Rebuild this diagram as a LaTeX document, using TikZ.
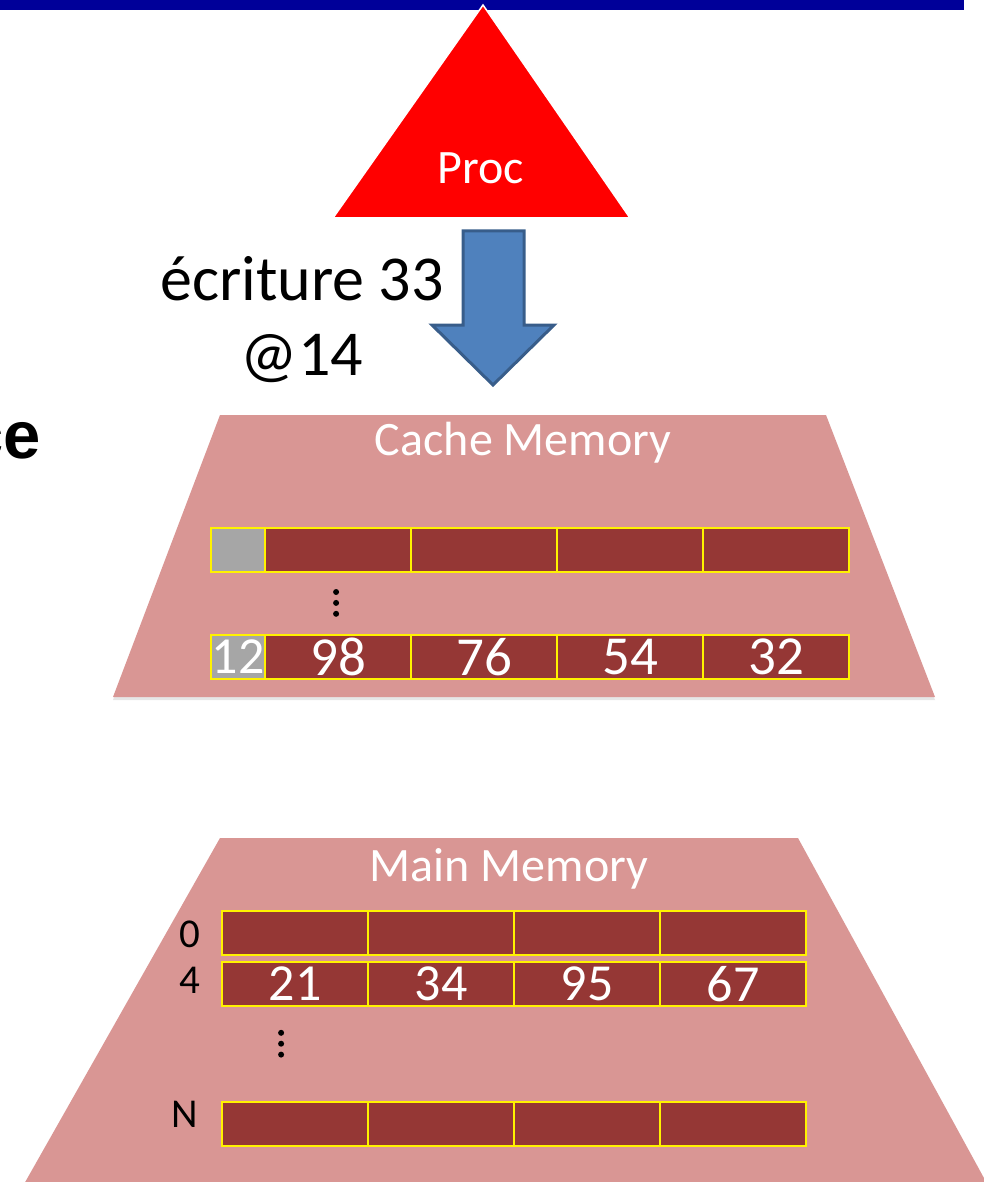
\documentclass[tikz,border=0pt]{standalone}
\usepackage{fontspec}
\setmainfont{Carlito}
\newfontfamily\arialfont{Liberation Sans}
\usetikzlibrary{matrix}
\usetikzlibrary{calc}
\usetikzlibrary{shadows}
\definecolor{barblue}{RGB}{0,0,153}
\definecolor{procred}{RGB}{255,0,0}
\definecolor{arrowblue}{RGB}{79,129,189}
\definecolor{arrowedge}{RGB}{56,93,138}
\definecolor{mempink}{RGB}{217,150,148}
\definecolor{cellred}{RGB}{149,55,53}
\definecolor{taggrey}{RGB}{166,166,166}
\begin{document}
\begin{tikzpicture}[x=1pt,y=-1pt,
    cell/.style={draw=yellow, line width=1.8pt, fill=cellred, text=white, inner sep=0pt, anchor=center,
      minimum width=146pt, minimum height=44pt, font=\fontsize{55}{55}\selectfont},
    tag/.style={cell, fill=taggrey, minimum width=54pt, font=\fontsize{52}{52}\selectfont},
    memrow/.style={matrix of nodes, nodes in empty cells, inner sep=0pt,
      column sep=-1.8pt, row sep=4pt, nodes={cell}},
    level/.style={fill=mempink, drop shadow={opacity=.2, shadow xshift=0pt, shadow yshift=-3pt}},
    vdotsline/.style={line width=6pt, line cap=round, dash pattern=on 0pt off 10.9pt},
    addr/.style={anchor=center, font=\fontsize{41}{41}\selectfont}]
  \useasboundingbox (0,0) rectangle (984,1182);

  % title bar and processor
  \fill[barblue] (0,0) rectangle (964,10);
  \coordinate (top) at (483,5);
  \coordinate (bl) at (333,218);
  \coordinate (br) at (630,218);
  \draw[white, line width=1.5pt, fill=procred] (top) -- (br) -- (bl) -- cycle;
  \node[text=white, font=\fontsize{48}{48}\selectfont] (proc) at (481,168) {Proc};

  % write request
  \draw[arrowedge, line width=3pt, fill=arrowblue, line join=miter]
    (463,231) -- (524,231) -- (524,325) -- (554,325) -- (493,385) -- (432,325) -- (463,325) -- cycle;
  \node[align=center, font=\fontsize{64}{75}\selectfont] (req) at (302,320) {écriture 33\\@14};
  \node[anchor=base east, inner sep=0pt, font=\arialfont\bfseries\fontsize{67}{67}\selectfont] (cut) at (41,458) {ce};

  % cache memory
  \path[level] (220,415) -- (826,415) -- (935,697) -- (113,697) -- cycle;
  \node[text=white, font=\fontsize{48}{48}\selectfont] (cname) at (523,443) {Cache Memory};
  \matrix(ca)[memrow, anchor=north west] at (210,527) {
    |[tag]| & & & & \\};
  \matrix(cb)[memrow, anchor=north west] at (210,634) {
    |[tag]| 12 & 98 & 76 & 54 & 32 \\};
  \coordinate (cd1) at ($(ca-1-2.south)+(-2,19)$);
  \coordinate (cd2) at ($(cb-1-2.north)+(-2,-11)$);
  \draw[vdotsline] (cd1) -- (cd2);

  % main memory
  \path[level] (220,838) -- (798,838) -- (996,1200) -- (15,1200) -- cycle;
  \node[text=white, font=\fontsize{48}{48}\selectfont] (mname) at (509,869) {Main Memory};
  \matrix(ma)[memrow, anchor=north west, row sep=5pt, nodes={font=\fontsize{52}{52}\selectfont}] at (221,910) {
    & & & \\
    21 & 34 & 95 & 67 \\};
  \matrix(mb)[memrow, anchor=north west] at (221,1101) {
    & & & \\};
  \node[addr] (a0) at (190,934) {0};
  \node[addr] (a4) at (190,980) {4};
  \node[addr] (an) at (185,1114) {N};
  \coordinate (md1) at ($(ma-2-1.south)+(-14,26)$);
  \coordinate (md2) at ($(mb-1-1.north)+(-14,-39)$);
  \draw[vdotsline] (md1) -- (md2);
\end{tikzpicture}
\end{document}
